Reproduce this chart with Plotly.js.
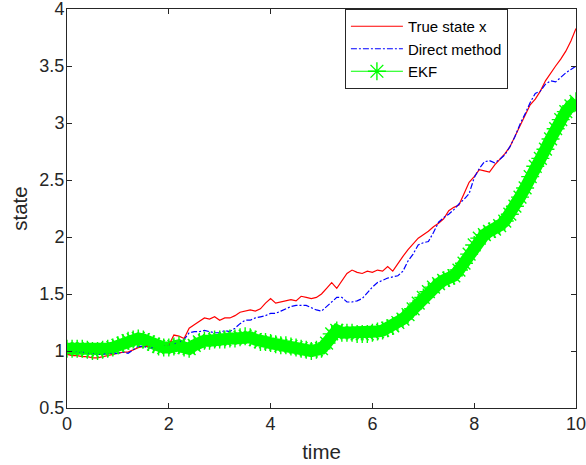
<!DOCTYPE html>
<html>
<head>
<meta charset="utf-8">
<script src="https://cdn.plot.ly/plotly-3.0.1.min.js"></script>
<style>html,body{margin:0;padding:0;background:#fff;}#chart{width:586px;height:465px;}</style>
</head>
<body>
<div id="chart"></div>
<script>
const time = [0.0,0.1,0.2,0.3,0.4,0.5,0.6,0.7,0.8,0.9,1.0,1.1,1.2,1.3,1.4,1.5,1.6,1.7,1.8,1.9,
2.0,2.1,2.2,2.3,2.4,2.5,2.6,2.7,2.8,2.9,3.0,3.1,3.2,3.3,3.4,3.5,3.6,3.7,3.8,3.9,
4.0,4.1,4.2,4.3,4.4,4.5,4.6,4.7,4.8,4.9,5.0,5.1,5.2,5.3,5.4,5.5,5.6,5.7,5.8,5.9,
6.0,6.1,6.2,6.3,6.4,6.5,6.6,6.7,6.8,6.9,7.0,7.1,7.2,7.3,7.4,7.5,7.6,7.7,7.8,7.9,
8.0,8.1,8.2,8.3,8.4,8.5,8.6,8.7,8.8,8.9,9.0,9.1,9.2,9.3,9.4,9.5,9.6,9.7,9.8,9.9,10.0];

const trueState = [0.97,0.96,0.96,0.95,0.95,0.94,0.94,0.95,0.96,0.97,0.98,0.99,0.99,1.01,1.03,1.04,1.04,1.03,1.03,1.04,
1.05,1.14,1.13,1.11,1.20,1.23,1.26,1.29,1.28,1.30,1.27,1.29,1.29,1.31,1.34,1.35,1.36,1.35,1.37,1.42,
1.46,1.42,1.43,1.44,1.45,1.44,1.48,1.47,1.46,1.47,1.50,1.55,1.60,1.55,1.62,1.68,1.71,1.69,1.68,1.70,
1.69,1.71,1.70,1.74,1.70,1.77,1.83,1.89,1.94,1.99,2.02,2.05,2.09,2.12,2.16,2.23,2.26,2.28,2.38,2.48,
2.53,2.59,2.58,2.57,2.63,2.68,2.73,2.79,2.88,2.97,3.06,3.16,3.21,3.28,3.37,3.44,3.50,3.56,3.63,3.72,3.83];

const directMethod = [1.00,1.00,0.99,0.99,0.98,0.98,0.97,0.97,0.98,0.98,0.98,0.99,0.98,1.01,1.04,1.04,1.03,1.03,1.03,1.04,
1.05,1.06,1.08,1.10,1.16,1.17,1.17,1.18,1.17,1.16,1.16,1.18,1.17,1.20,1.24,1.27,1.27,1.29,1.30,1.31,
1.33,1.33,1.35,1.37,1.39,1.40,1.40,1.40,1.38,1.36,1.35,1.39,1.43,1.47,1.47,1.43,1.43,1.44,1.46,1.51,
1.56,1.60,1.62,1.64,1.65,1.66,1.70,1.79,1.85,1.93,1.95,1.96,2.04,2.13,2.17,2.20,2.24,2.29,2.33,2.38,
2.52,2.60,2.66,2.67,2.65,2.68,2.72,2.79,2.88,2.99,3.08,3.18,3.26,3.28,3.34,3.37,3.36,3.40,3.44,3.47,3.50];

const ekf = [1.02,1.02,1.02,1.02,1.01,1.00,1.00,1.01,1.02,1.03,1.05,1.07,1.09,1.10,1.11,1.10,1.08,1.06,1.04,1.03,
1.03,1.04,1.05,1.03,1.02,1.05,1.08,1.09,1.09,1.10,1.10,1.10,1.11,1.11,1.12,1.13,1.12,1.10,1.08,1.08,
1.07,1.06,1.05,1.05,1.04,1.03,1.02,1.01,1.00,1.01,1.02,1.07,1.15,1.18,1.16,1.16,1.16,1.15,1.15,1.15,
1.16,1.17,1.18,1.20,1.22,1.25,1.28,1.32,1.37,1.42,1.47,1.52,1.56,1.59,1.62,1.64,1.66,1.71,1.77,1.85,
1.93,1.99,2.02,2.05,2.07,2.10,2.14,2.20,2.27,2.35,2.43,2.53,2.62,2.69,2.77,2.86,2.95,3.03,3.10,3.15,3.19];

const seriesNames = ['True state x', 'Direct method', 'EKF'];
const xTicks = [0, 2, 4, 6, 8, 10];
const xTickText = ['0', '2', '4', '6', '8', '10'];
const yTicks = [0.5, 1, 1.5, 2, 2.5, 3, 3.5, 4];
const yTickText = ['0.5', '1', '1.5', '2', '2.5', '3', '3.5', '4'];
const xTitle = 'time';
const yTitle = 'state';

const font = 'Liberation Sans, Arial, Helvetica, sans-serif';
const ink = '#262626';

const traces = [
  {x: time, y: ekf, name: seriesNames[2], type: 'scatter', mode: 'lines',
   line: {color: 'rgb(0,255,0)', width: 12}, showlegend: false, hoverinfo: 'skip'},
  {x: time, y: trueState, name: seriesNames[0], type: 'scatter', mode: 'lines',
   line: {color: 'rgb(255,0,0)', width: 1.2}},
  {x: time, y: directMethod, name: seriesNames[1], type: 'scatter', mode: 'lines',
   line: {color: 'rgb(0,0,255)', width: 1.2, dash: '6px,2px,2px,2px'}},
  {x: time, y: ekf, name: seriesNames[2], type: 'scatter', mode: 'lines+markers',
   line: {color: 'rgb(0,255,0)', width: 1.2},
   marker: {symbol: 'asterisk-open', size: 15, color: 'rgb(0,255,0)', line: {color: 'rgb(0,255,0)', width: 1.4}}}
];

const layout = {
  width: 586, height: 465,
  margin: {l: 67, r: 10, t: 9, b: 57, pad: 0},
  paper_bgcolor: '#fff', plot_bgcolor: '#fff',
  font: {family: font, color: ink, size: 18},
  showlegend: true,
  legend: {
    x: 0.546, y: 1, xanchor: 'left', yanchor: 'top',
    bgcolor: '#fff', bordercolor: ink, borderwidth: 1,
    font: {family: font, size: 15, color: '#000'},
    traceorder: 'normal',
    itemwidth: 52
  },
  xaxis: {
    range: [0, 10.00001], tickmode: 'array', tickvals: xTicks, ticktext: xTickText,
    showgrid: false, zeroline: false,
    showline: true, mirror: 'ticks', linecolor: ink, linewidth: 1,
    ticks: 'inside', ticklen: 5, tickcolor: ink, tickwidth: 1,
    tickfont: {family: font, size: 18, color: ink},
    ticklabeloverflow: 'allow',
    ticklabelstandoff: -1,
    title: {text: xTitle, font: {family: font, size: 20.5, color: ink}, standoff: 12}
  },
  yaxis: {
    range: [0.5, 4.00001], tickmode: 'array', tickvals: yTicks, ticktext: yTickText,
    showgrid: false, zeroline: false,
    showline: true, mirror: 'ticks', linecolor: ink, linewidth: 1,
    ticks: 'inside', ticklen: 5, tickcolor: ink, tickwidth: 1,
    tickfont: {family: font, size: 18, color: ink},
    ticklabeloverflow: 'allow',
    ticklabelstandoff: -2,
    title: {text: yTitle, font: {family: font, size: 20.5, color: ink}, standoff: 6}
  }
};

Plotly.newPlot('chart', traces, layout, {displayModeBar: false, staticPlot: true});
</script>
</body>
</html>
